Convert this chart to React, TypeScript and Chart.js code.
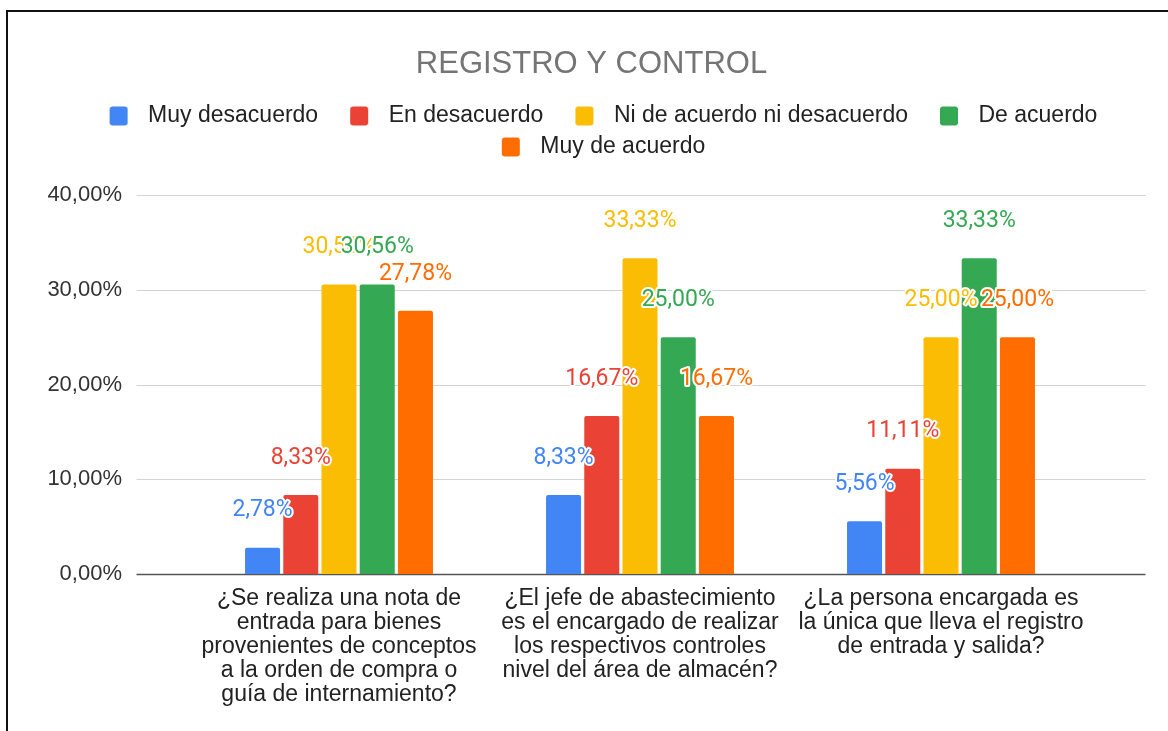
import React, { useEffect, useRef } from 'react';
import { Chart, registerables, layouts } from 'chart.js';

Chart.register(...registerables);

const chartTitle = 'REGISTRO Y CONTROL';
const categories: string[][] = [
  ['¿Se realiza una nota de', 'entrada para bienes', 'provenientes de conceptos', 'a la orden de compra o', 'guía de internamiento?'],
  ['¿El jefe de abastecimiento', 'es el encargado de realizar', 'los respectivos controles', 'nivel del área de almacén?'],
  ['¿La persona encargada es', 'la única que lleva el registro', 'de entrada y salida?'],
];
const seriesLabels = ['Muy desacuerdo', 'En desacuerdo', 'Ni de acuerdo ni desacuerdo', 'De acuerdo', 'Muy de acuerdo'];
const muyDesacuerdo = [2.78, 8.33, 5.56];
const enDesacuerdo = [8.33, 16.67, 11.11];
const niDeAcuerdoNiDesacuerdo = [30.56, 33.33, 25.0];
const deAcuerdo = [30.56, 25.0, 33.33];
const muyDeAcuerdo = [27.78, 16.67, 25.0];
const seriesColors = ['#4285F4', '#EA4335', '#FBBC04', '#34A853', '#FF6D01'];
const yMin = 0;
const yMax = 40;
const yStep = 10;

const fmt = (v: number) => v.toFixed(2).replace('.', ',') + '%';
const SANS = "'Liberation Sans', Arial, sans-serif";

function makeSwatch(color: string): HTMLCanvasElement {
  const c = document.createElement('canvas');
  c.width = 24 + 18 + 9;
  c.height = 20;
  const g = c.getContext('2d')!;
  g.fillStyle = color;
  g.beginPath();
  (g as any).roundRect(24, 0.5, 18, 19, 3);
  g.fill();
  return c;
}

const spacerPlugin = {
  id: 'legendSpacer',
  beforeInit(chart: any) {
    const box: any = {
      position: 'top',
      weight: 1,
      fullSize: true,
      options: { stackWeight: 1 },
      top: 0, left: 0, right: 0, bottom: 0, width: 0, height: 0,
      isHorizontal() { return true; },
      update(maxWidth: number) { this.width = maxWidth; this.height = 26.5; },
      getPadding() { return { top: 0, left: 0, right: 0, bottom: 0 }; },
      draw() {},
    };
    layouts.addBox(chart, box);
  },
};

const gridPlugin = {
  id: 'wideGrid',
  beforeDatasetsDraw(chart: any) {
    const { ctx, chartArea } = chart;
    const ys = chart.scales.y;
    const x0 = chartArea.left - 52;
    const x1 = chartArea.right + 54;
    ctx.save();
    ys.ticks.forEach((t: any) => {
      const py = Math.round(ys.getPixelForValue(t.value)) + 0.5;
      ctx.strokeStyle = t.value === 0 ? '#555555' : '#d3d3d3';
      ctx.lineWidth = t.value === 0 ? 1.5 : 1;
      ctx.beginPath();
      ctx.moveTo(x0, py);
      ctx.lineTo(x1, py);
      ctx.stroke();
    });
    ctx.restore();
  },
};

const valueLabelPlugin = {
  id: 'valueLabels',
  afterDatasetsDraw(chart: any) {
    const { ctx } = chart;
    ctx.save();
    ctx.font = '23px Roboto, sans-serif';
    ctx.textAlign = 'center';
    ctx.textBaseline = 'middle';
    ctx.lineJoin = 'round';
    chart.data.datasets.forEach((ds: any, di: number) => {
      const meta = chart.getDatasetMeta(di);
      meta.data.forEach((bar: any, i: number) => {
        const v = ds.data[i] as number;
        const { x, y } = bar.getProps(['x', 'y'], true);
        const ty = y - 37;
        ctx.lineWidth = 4;
        ctx.strokeStyle = '#ffffff';
        ctx.strokeText(fmt(v), x, ty);
        ctx.fillStyle = ds.backgroundColor;
        ctx.fillText(fmt(v), x, ty);
      });
    });
    ctx.restore();
  },
};

export default function App() {
  const canvasRef = useRef<HTMLCanvasElement | null>(null);

  useEffect(() => {
    if (!canvasRef.current) return;
    const seriesValues = [muyDesacuerdo, enDesacuerdo, niDeAcuerdoNiDesacuerdo, deAcuerdo, muyDeAcuerdo];
    const swatches = seriesColors.map(makeSwatch);
    const chart = new Chart(canvasRef.current, {
      type: 'bar',
      data: {
        labels: categories,
        datasets: seriesLabels.map((label, i) => ({
          label,
          data: seriesValues[i],
          backgroundColor: seriesColors[i],
          borderRadius: 2,
          categoryPercentage: 0.635,
          barPercentage: 0.916,
        })),
      },
      options: {
        responsive: false,
        animation: false,
        devicePixelRatio: 1,
        layout: { padding: { left: 47.5, right: 32.5, top: 0, bottom: 11 } },
        plugins: {
          title: {
            display: true,
            text: chartTitle,
            color: '#757575',
            font: { family: SANS, size: 31, weight: 'normal' },
            padding: { top: 45.5, bottom: 13.8 },
          },
          legend: {
            display: true,
            position: 'top',
            labels: {
              usePointStyle: true,
              pointStyleWidth: 51,
              padding: 8,
              color: '#222222',
              font: { family: SANS, size: 23 },
              generateLabels: (c: any) =>
                c.data.datasets.map((ds: any, i: number) => ({
                  text: ds.label,
                  fillStyle: ds.backgroundColor,
                  strokeStyle: ds.backgroundColor,
                  lineWidth: 0,
                  pointStyle: swatches[i],
                  hidden: !c.isDatasetVisible(i),
                  datasetIndex: i,
                  fontColor: '#222222',
                })),
            },
          },
          tooltip: { enabled: false },
        },
        scales: {
          x: {
            grid: { display: false, drawTicks: false },
            border: { display: false },
            ticks: {
              color: '#222222',
              font: { family: SANS, size: 23, lineHeight: 24 / 23 },
              padding: 13,
              maxRotation: 0,
              minRotation: 0,
              autoSkip: false,
            },
          },
          y: {
            min: yMin,
            max: yMax,
            grid: { display: false, drawTicks: false },
            border: { display: false },
            ticks: {
              stepSize: yStep,
              color: '#333333',
              font: { family: SANS, size: 22 },
              padding: 66.5,
              callback: (v: any) => fmt(Number(v)),
            },
            afterFit: (s: any) => { s.width = 141; },
          },
          y2: {
            display: true,
            position: 'right',
            grid: { display: false, drawTicks: false },
            border: { display: false },
            ticks: { display: false },
            afterFit: (s: any) => { s.width = 44; },
          },
        },
      },
      plugins: [spacerPlugin, gridPlugin, valueLabelPlugin],
    } as any);
    return () => chart.destroy();
  }, []);

  return (
    <div style={{ position: 'fixed', left: 0, top: 0, width: 1168, height: 731, overflow: 'hidden', background: '#ffffff' }}>
      <div style={{ position: 'absolute', left: 6, top: 10, width: 1200, height: 800, borderTop: '2px solid #111', borderLeft: '2px solid #111' }} />
      <canvas ref={canvasRef} width={1168} height={731} style={{ position: 'absolute', left: 0, top: 0, width: 1168, height: 731 }} />
    </div>
  );
}
